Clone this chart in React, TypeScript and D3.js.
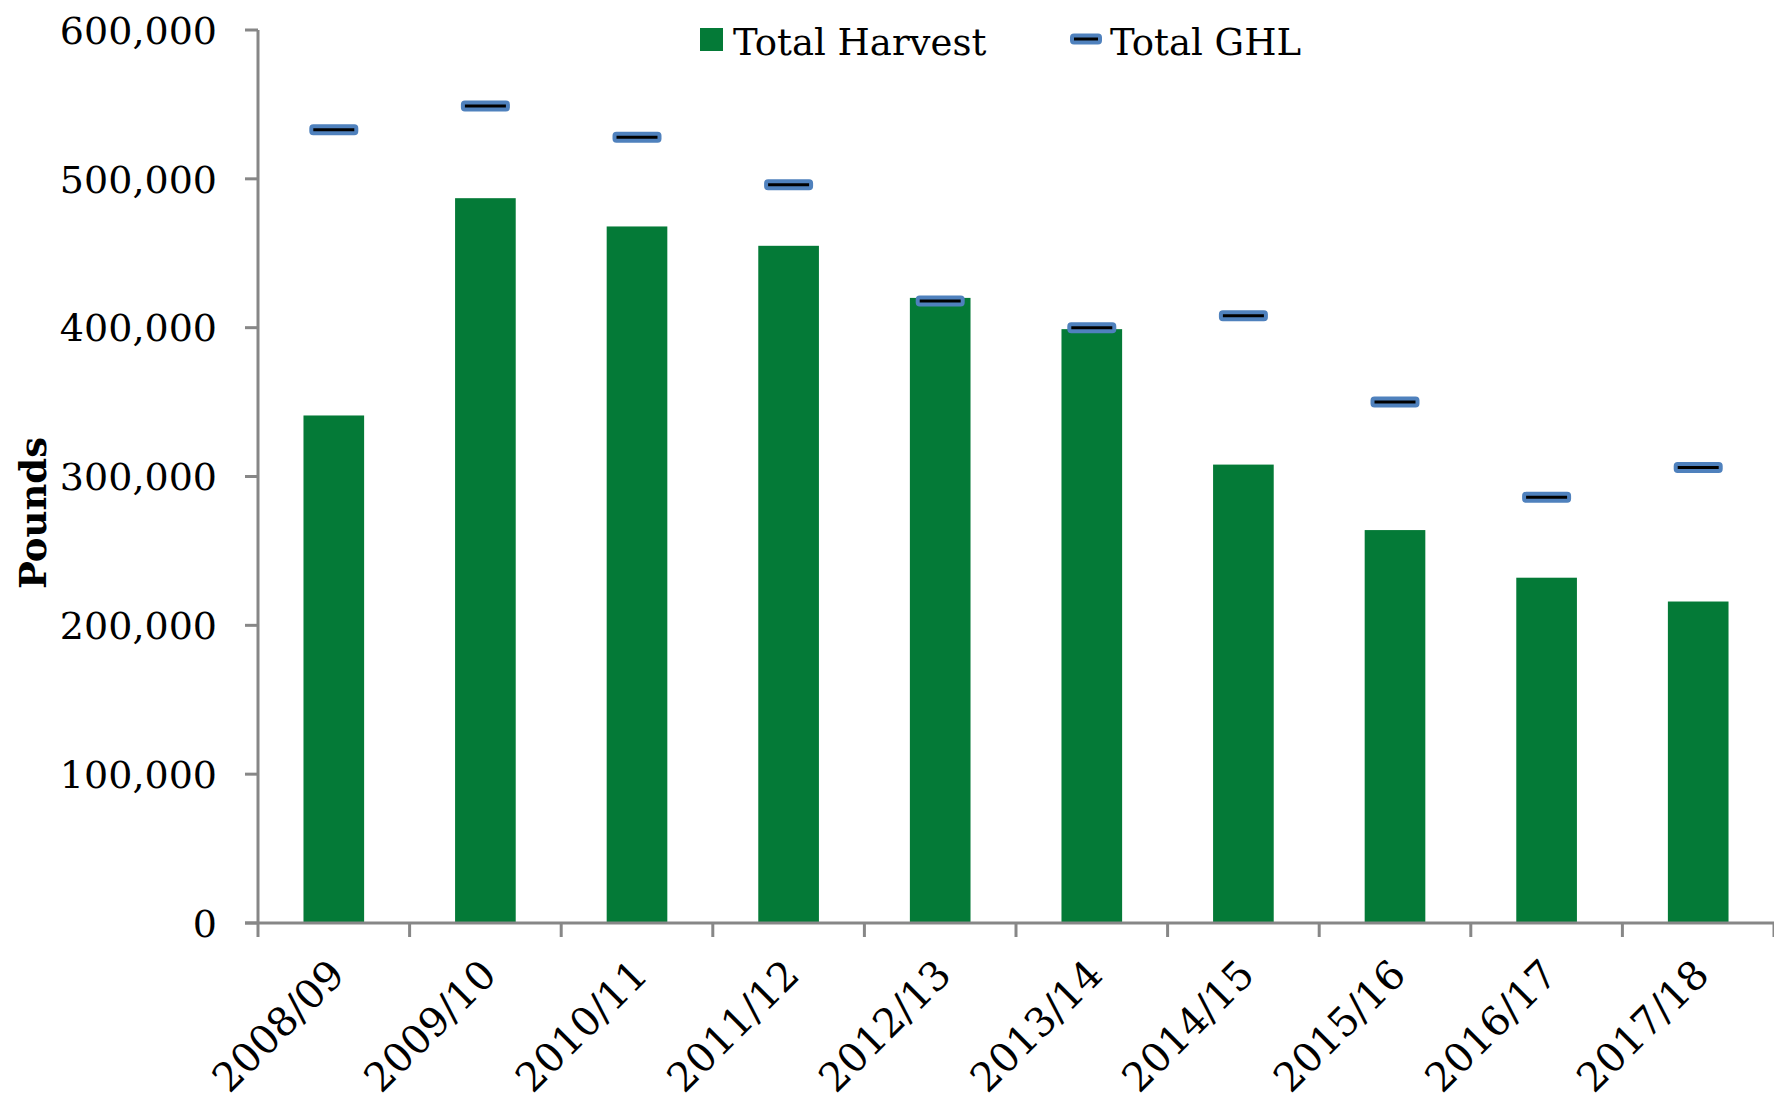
import React from 'react';
import * as d3 from 'd3';

const seasons = ['2008/09', '2009/10', '2010/11', '2011/12', '2012/13', '2013/14', '2014/15', '2015/16', '2016/17', '2017/18'];
const totalHarvest = [341000, 487000, 468000, 455000, 420000, 399000, 308000, 264000, 232000, 216000];
const totalGHL = [533000, 549000, 528000, 496000, 418000, 400000, 408000, 350000, 286000, 306000];
const yTicks = [0, 100000, 200000, 300000, 400000, 500000, 600000];

const W = 1774;
const H = 1102;
const margin = { top: 30, right: 0, bottom: 179, left: 258 };
const font = '"DejaVu Serif", serif';
const axisColor = '#878787';
const green = '#047a37';
const blue = '#4f81bd';

export default function App() {
  const x = d3
    .scaleBand<string>()
    .domain(seasons)
    .range([margin.left, W - margin.right])
    .paddingInner(0.6)
    .paddingOuter(0.3);

  const step = (W - margin.right - margin.left) / seasons.length;

  const y = d3
    .scaleLinear()
    .domain([0, 600000])
    .range([H - margin.bottom, margin.top]);

  const fmt = d3.format(',');
  const baseY = y(0);

  return (
    <svg
      width={W}
      height={H}
      style={{ position: 'absolute', left: 0, top: 0, display: 'block', background: '#fff' }}
    >
      {/* Bars */}
      {seasons.map((s, i) => (
        <rect
          key={s}
          x={x(s)}
          y={y(totalHarvest[i])}
          width={x.bandwidth()}
          height={baseY - y(totalHarvest[i])}
          fill={green}
        />
      ))}

      {/* GHL markers */}
      {seasons.map((s, i) => (
        <rect
          key={s}
          x={(x(s) as number) + x.bandwidth() / 2 - 22.5}
          y={y(totalGHL[i]) - 3.5}
          width={45}
          height={7}
          rx={2}
          fill="#000"
          stroke={blue}
          strokeWidth={4}
        />
      ))}

      {/* Y axis */}
      <line x1={margin.left} x2={margin.left} y1={y(600000)} y2={baseY} stroke={axisColor} strokeWidth={3} />
      {yTicks.map(t => (
        <g key={t}>
          <line x1={margin.left - 13} x2={margin.left} y1={y(t)} y2={y(t)} stroke={axisColor} strokeWidth={3} />
          <text
            x={217}
            y={y(t)}
            dy="0.36em"
            textAnchor="end"
            fontFamily={font}
            fontSize={38}
            fill="#000"
          >
            {fmt(t)}
          </text>
        </g>
      ))}

      {/* X axis */}
      <line x1={margin.left - 13} x2={W} y1={baseY} y2={baseY} stroke={axisColor} strokeWidth={3} />
      {d3.range(seasons.length + 1).map(i => (
        <line
          key={i}
          x1={margin.left + i * step}
          x2={margin.left + i * step}
          y1={baseY}
          y2={baseY + 14}
          stroke={axisColor}
          strokeWidth={3}
        />
      ))}
      {seasons.map(s => {
        const cx = (x(s) as number) + x.bandwidth() / 2;
        return (
          <text
            key={s}
            transform={`translate(${cx + 13},${baseY + 54}) rotate(-45)`}
            textAnchor="end"
            fontFamily={font}
            fontSize={40}
            fill="#000"
          >
            {s}
          </text>
        );
      })}

      {/* Y title */}
      <text
        transform={`translate(46,513) rotate(-90)`}
        textAnchor="middle"
        fontFamily={font}
        fontWeight="bold"
        fontSize={37}
        fill="#000"
      >
        Pounds
      </text>

      {/* Legend */}
      <rect x={700} y={28} width={23} height={23} fill={green} />
      <text x={733} y={55} fontFamily={font} fontSize={37} fill="#000">
        Total Harvest
      </text>
      <rect x={1072} y={35.5} width={28} height={7} rx={2} fill="#000" stroke={blue} strokeWidth={4} />
      <text x={1110} y={55} fontFamily={font} fontSize={37} fill="#000">
        Total GHL
      </text>
    </svg>
  );
}
